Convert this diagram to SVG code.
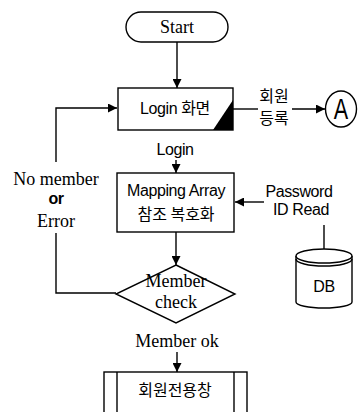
<svg xmlns="http://www.w3.org/2000/svg" width="358" height="412" viewBox="0 0 358 412">
  <defs>
    <marker id="arrow" viewBox="0 0 10 10" refX="10" refY="5" markerWidth="9" markerHeight="9" markerUnits="userSpaceOnUse" orient="auto">
      <path d="M0,0 L10,5 L0,10 Z" fill="#000"/>
    </marker>
    <style>
      .shape { fill: #fff; stroke: #000; stroke-width: 1.4; }
      .line { fill: none; stroke: #000; stroke-width: 1.4; }
      .serif { font-family: "Liberation Serif", "Times New Roman", serif; font-size: 18px; fill: #000; }
      .sans { font-family: "Liberation Sans", Arial, "Noto Sans CJK KR", sans-serif; font-size: 16px; fill: #000; letter-spacing: -0.4px; }
      .kr { font-family: "Noto Sans CJK KR", "Liberation Sans", sans-serif; font-size: 16px; fill: #000; }
    </style>
  </defs>

  <!-- connectors -->
  <g id="connectors">
    <line class="line" x1="177" y1="42" x2="177" y2="88" marker-end="url(#arrow)"/>
    <line class="line" x1="176" y1="160" x2="176" y2="173" marker-end="url(#arrow)"/>
    <line class="line" x1="176" y1="232" x2="176" y2="265" marker-end="url(#arrow)"/>
    <line class="line" x1="177" y1="352" x2="177" y2="372" marker-end="url(#arrow)"/>
    <line class="line" x1="264" y1="202" x2="235" y2="202" marker-end="url(#arrow)"/>
    <line class="line" x1="324" y1="225" x2="324" y2="250"/>
    <line class="line" x1="233" y1="109" x2="258" y2="109"/>
    <line class="line" x1="292" y1="109" x2="325" y2="109" marker-end="url(#arrow)"/>
    <!-- loop back from the decision -->
    <polyline class="line" points="116,293 56,293 56,233"/>
    <polyline class="line" points="56,162 56,108 117,108" marker-end="url(#arrow)"/>
    <text class="serif" x="56" y="185" text-anchor="middle">No member</text>
    <text class="sans" x="56" y="204" text-anchor="middle" font-weight="bold" font-size="15">or</text>
    <text class="serif" x="56" y="227" text-anchor="middle">Error</text>
    <text class="sans" x="175" y="155" text-anchor="middle">Login</text>
    <text class="sans" x="299" y="197" text-anchor="middle">Password</text>
    <text class="sans" x="301" y="215" text-anchor="middle">ID Read</text>
    <text class="kr" x="274" y="102" text-anchor="middle" font-size="15">회원</text>
    <text class="kr" x="274" y="124" text-anchor="middle" font-size="15">등록</text>
    <text class="serif" x="177" y="347" text-anchor="middle" font-size="19">Member ok</text>
  </g>

  <g id="start">
    <rect class="shape" x="126" y="12" width="102" height="30" rx="15"/>
    <text class="serif" x="177" y="33" text-anchor="middle" font-size="19">Start</text>
  </g>

  <g id="login">
    <rect class="shape" x="118" y="88" width="115" height="42"/>
    <path d="M213,130 L233,100 L233,130 Z" fill="#000"/>
    <text class="sans" x="175" y="114" text-anchor="middle">Login <tspan font-family="Noto Sans CJK KR, sans-serif">화면</tspan></text>
  </g>

  <g id="connector-a">
    <ellipse class="shape" cx="341" cy="109" rx="15.5" ry="18"/>
    <text transform="translate(341,119) scale(0.72,1)" text-anchor="middle" font-family="Liberation Sans, Arial, sans-serif" font-size="30" fill="#000">A</text>
  </g>

  <g id="mapping">
    <rect class="shape" x="117" y="173" width="117" height="59"/>
    <text class="sans" x="176" y="196" text-anchor="middle">Mapping Array</text>
    <text class="kr" x="176" y="220" text-anchor="middle">참조 복호화</text>
  </g>

  <g id="db">
    <path class="shape" d="M296,256 L296,302 A28,6 0 0 0 352,302 L352,256"/>
    <ellipse class="shape" cx="324" cy="256" rx="28" ry="7"/>
    <path class="line" d="M296,259 A28,7 0 0 0 352,259"/>
    <text class="sans" x="324" y="292" text-anchor="middle" font-size="17">DB</text>
  </g>

  <g id="member-check">
    <polygon class="shape" points="176,265 235,294 176,323 116,294"/>
    <text class="serif" x="176" y="287" text-anchor="middle">Member</text>
    <text class="serif" x="176" y="308" text-anchor="middle">check</text>
  </g>

  <g id="member-window">
    <rect class="shape" x="104" y="372" width="143" height="45"/>
    <line class="line" x1="117" y1="372" x2="117" y2="412"/>
    <line class="line" x1="234" y1="372" x2="234" y2="412"/>
    <text class="kr" x="175" y="396" text-anchor="middle">회원전용창</text>
  </g>
</svg>
